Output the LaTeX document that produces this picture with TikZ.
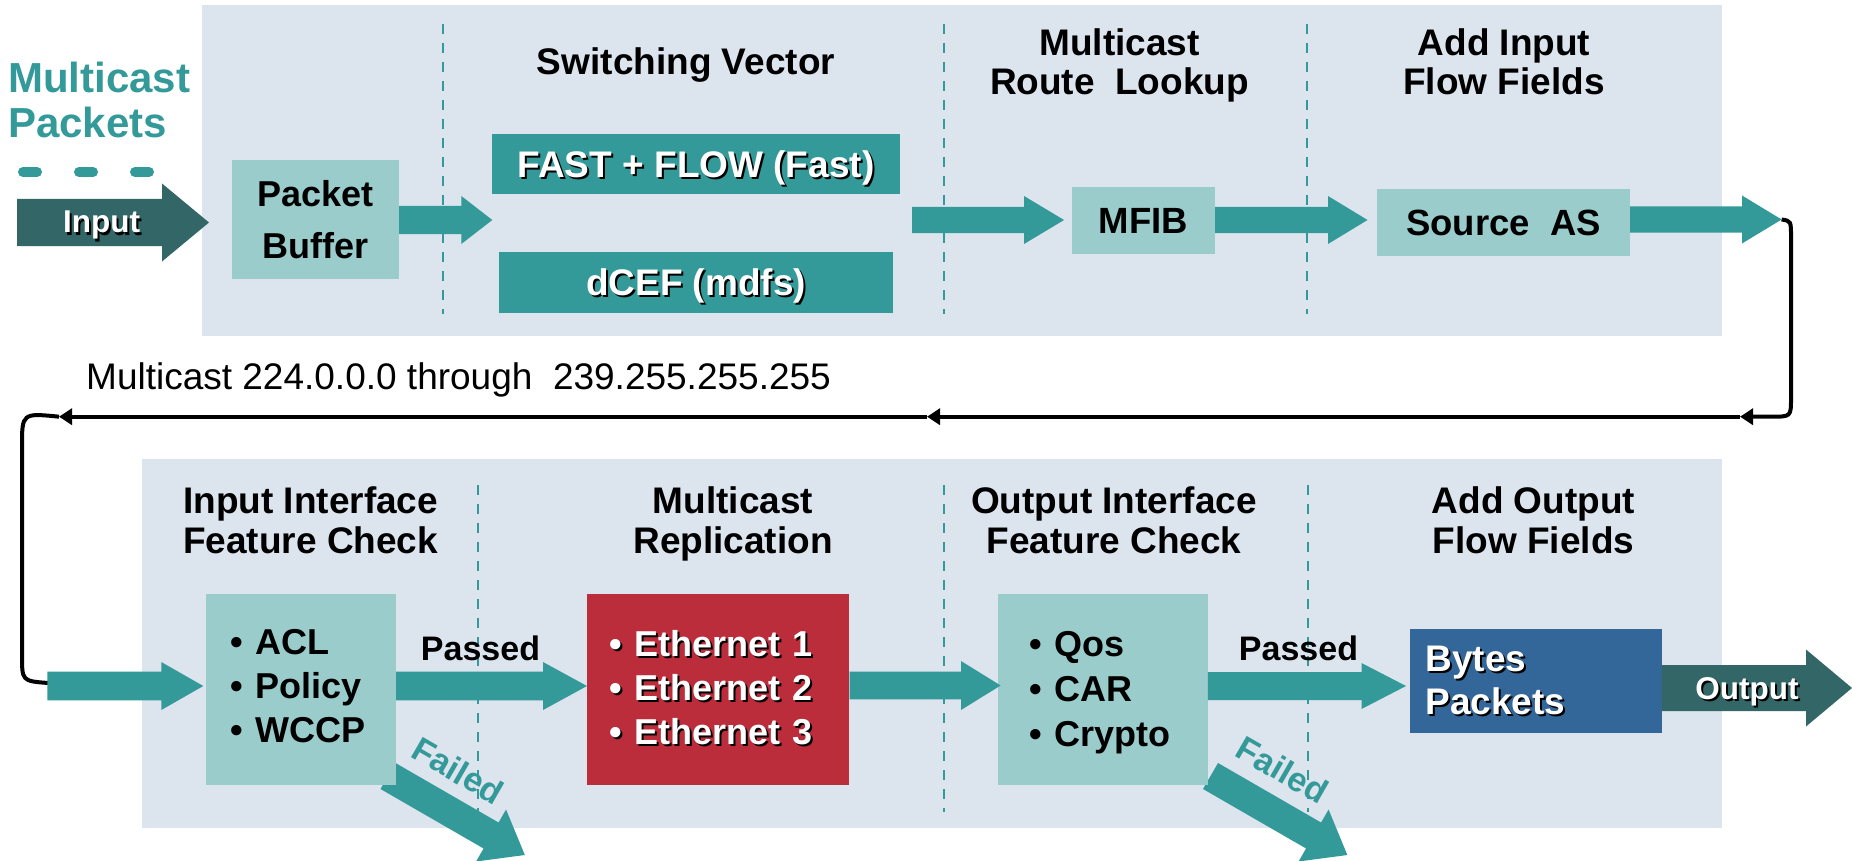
\documentclass[tikz,border=0pt]{standalone}
\usepackage{fontspec}
\setmainfont{Liberation Sans}
\usetikzlibrary{arrows.meta,calc}

\definecolor{panelbg}{HTML}{DCE4ED}
\definecolor{boxteal}{HTML}{9BCCCC}
\definecolor{flowteal}{HTML}{339999}
\definecolor{darkteal}{HTML}{336666}
\definecolor{replred}{HTML}{BB2D3B}
\definecolor{fieldblue}{HTML}{336699}

% white lettering with a dark drop shadow
\newcommand\shadowed[1]{\leavevmode\rlap{\kern2pt\raisebox{-2pt}{\textcolor{black}{#1}}}#1}

% horizontal block arrow: colour, start, tip, body half-height, head half-height, head length
\newcommand\blockarrow[6]{%
  \fill[#1] let \p1=(#2), \p2=(#3) in
    (\x1,\y2+#4) -- (\x2-#6,\y2+#4) -- (\x2-#6,\y2+#5) -- (\x2,\y2)
    -- (\x2-#6,\y2-#5) -- (\x2-#6,\y2-#4) -- (\x1,\y2-#4) -- cycle;}

\tikzset{
  panel/.style={fill=panelbg},
  sep/.style={draw=flowteal, line width=2pt, dash pattern=on 10pt off 9pt},
  hd/.style={font=\fontsize{37}{39.5}\selectfont\bfseries, align=center, anchor=base, inner sep=0pt},
  lbox/.style={fill=boxteal, inner sep=0pt, font=\fontsize{36}{44}\selectfont\bfseries, text depth=0pt},
  tbox/.style={fill=flowteal, inner sep=0pt, text=white, font=\fontsize{37}{40}\selectfont\bfseries, text depth=0pt},
  listbox/.style={inner ysep=0pt, align=left, font=\fontsize{36}{44}\selectfont\bfseries},
  lbl/.style={font=\fontsize{34}{36}\selectfont\bfseries, anchor=base, inner sep=0pt},
  failtext/.style={font=\fontsize{34}{36}\selectfont\bfseries, text=flowteal, inner sep=0pt, rotate=-30},
  io/.style={font=\fontsize{31.5}{34}\selectfont\bfseries, text=white, anchor=base, inner sep=0pt},
  retline/.style={draw=black, line width=4pt},
  rettip/.style={-{Triangle[length=13pt,width=16pt]}},
}

\begin{document}
\begin{tikzpicture}[x=1pt, y=-1pt]
\useasboundingbox (0,0) rectangle (1852,861);

% stage panels
\fill[panel] (202,5) rectangle (1722,336);
\fill[panel] (142,459) rectangle (1722,828);

% stage separators
\draw[sep] (443,24) -- (443,314);
\draw[sep] (944,24) -- (944,314);
\draw[sep] (1307,24) -- (1307,314);
\draw[sep] (477.6,485) -- (477.6,812);
\draw[sep] (944,485) -- (944,812);
\draw[sep] (1308,485) -- (1308,812);

% incoming packets (multi-line nodes sit on the baseline of their last line)
\node[anchor=base west, align=left, inner sep=0pt, text=flowteal,
      font=\fontsize{42}{45}\selectfont\bfseries] (title) at (8,138) {Multicast\\Packets};
\draw[draw=flowteal, line width=10pt, line cap=round, dash pattern=on 14pt off 42pt] (23,172) -- (149,172);
\coordinate (inS) at (17,222.5);
\coordinate (inT) at (209,222.5);
\blockarrow{darkteal}{inS}{inT}{23.5pt}{39pt}{47pt}
\node[io] (inlbl) at (101.5,233) {\shadowed{Input}};

% upper row boxes
\node[lbox, align=center, minimum width=167pt, minimum height=119pt, font=\fontsize{36}{52}\selectfont\bfseries] (pb) at (315.5,219.5) {Packet\\Buffer};
\node[tbox, minimum width=408pt, minimum height=60pt] (fast) at (696,164) {\shadowed{FAST + FLOW (Fast)}};
\node[tbox, minimum width=394pt, minimum height=61pt] (dcef) at (696,282.5) {\shadowed{dCEF (mdfs)}};
\node[lbox, minimum width=143pt, minimum height=67pt, font=\fontsize{36.5}{40}\selectfont\bfseries] (mfib) at (1143.5,220.5) {MFIB};
\node[lbox, minimum width=253pt, minimum height=67pt, font=\fontsize{36.5}{40}\selectfont\bfseries] (src) at (1503.5,222.5) {Source\ \ AS};

% upper row headings
\node[hd] (hsv) at (686,75) {Switching Vector};
\node[hd] (hmr) at (1119.5,95) {Multicast\\Route\ \ Lookup};
\node[hd] (hin) at (1504,95) {Add Input\\Flow Fields};

% upper row flow
\coordinate (svin) at (492.3,220);
\coordinate (svout) at (912,220);
\coordinate (mfin) at (1064,220);
\coordinate (srcin) at (1367.5,220);
\coordinate (retA) at (1781.6,219.5);
\blockarrow{flowteal}{pb.east}{svin}{14pt}{24pt}{31pt}
\blockarrow{flowteal}{svout}{mfin}{13pt}{24pt}{40pt}
\blockarrow{flowteal}{mfib.east}{srcin}{13pt}{24pt}{39.5pt}
\blockarrow{flowteal}{src.east}{retA}{13pt}{24pt}{39.6pt}

% return path to the lower row
\coordinate (r1) at (1740,416.7);
\coordinate (r2) at (927,416.7);
\coordinate (r3) at (59,416.7);
\coordinate (lin) at (48,683);
\draw[retline, rettip] (retA) .. controls (1791,221) .. (1791,237) -- (1791,398)
   .. controls (1791,416.7) .. (1771,416.7) -- (r1);
\draw[retline, rettip] (r1) -- (r2);
\draw[retline, rettip] (r2) -- (r3);
\draw[retline] (r3) .. controls (22,413) .. (22,447) -- (22,655) .. controls (22,681) .. (lin);
\node[anchor=base west, inner sep=0pt, font=\fontsize{37}{40}\selectfont] (range) at (86,389)
   {Multicast 224.0.0.0 through\ \ 239.255.255.255};

% lower row flow
\coordinate (aclinS) at (47.3,686);
\coordinate (aclinT) at (203.3,686);
\coordinate (ethin) at (587,686);
\coordinate (qosin) at (1000.6,685.5);
\coordinate (bytin) at (1406,686);
\coordinate (outT) at (1852,688);
\coordinate (f1) at (388,776);
\coordinate (f2) at (1210.5,776);
\begin{scope}[shift={(f1)}, rotate=-30]
  \fill[flowteal] (0,15) -- (119,15) -- (119,30) -- (158,0) -- (119,-30) -- (119,-15) -- (0,-15) -- cycle;
\end{scope}
\begin{scope}[shift={(f2)}, rotate=-30]
  \fill[flowteal] (0,15) -- (119,15) -- (119,30) -- (158,0) -- (119,-30) -- (119,-15) -- (0,-15) -- cycle;
\end{scope}

% lower row boxes (first line baseline = centre + (text height - text depth)/2)
\node[listbox, fill=boxteal, minimum height=191pt, inner xsep=24.7pt, text width=140.6pt,
      text height=17pt, text depth=88pt] (acl) at (301,689.5)
   {\textbullet\ ACL\\\textbullet\ Policy\\\textbullet\ WCCP};
\node[listbox, fill=replred, text=white, minimum height=191pt, inner xsep=22.7pt, text width=217pt,
      text height=21pt, text depth=88pt] (eth) at (718.25,689.5)
   {\shadowed{\textbullet\ Ethernet 1}\\\shadowed{\textbullet\ Ethernet 2}\\\shadowed{\textbullet\ Ethernet 3}};
\node[listbox, fill=boxteal, minimum height=191pt, inner xsep=31.7pt, text width=146.2pt,
      text height=23pt, text depth=90pt, font=\fontsize{36}{45}\selectfont\bfseries] (qos) at (1102.8,689.5)
   {\textbullet\ Qos\\\textbullet\ CAR\\\textbullet\ Crypto};
\node[listbox, fill=fieldblue, text=white, minimum height=104pt, inner xsep=15.4pt, text width=220.7pt,
      text height=23pt, text depth=43pt, font=\fontsize{37}{43}\selectfont\bfseries] (bytes) at (1535.75,681)
   {\shadowed{Bytes}\\\shadowed{Packets}};

\blockarrow{flowteal}{aclinS}{aclinT}{14.4pt}{24pt}{42pt}
\blockarrow{flowteal}{acl.east}{ethin}{14.4pt}{24pt}{44pt}
\blockarrow{flowteal}{eth.east}{qosin}{13.8pt}{24.5pt}{39.6pt}
\blockarrow{flowteal}{qos.east}{bytin}{14pt}{23pt}{44.5pt}
\blockarrow{darkteal}{bytes.east}{outT}{23pt}{38.5pt}{46pt}
\node[io] (outlbl) at (1747,699) {\shadowed{Output}};

% lower row headings and labels
\node[hd] (hic) at (310.6,553) {Input Interface\\Feature Check};
\node[hd] (hrep) at (733,553) {Multicast\\Replication};
\node[hd] (hoc) at (1114,553) {Output Interface\\Feature Check};
\node[hd] (hout) at (1533.5,553) {Add Output\\Flow Fields};
\node[lbl] (pass1) at (480.5,660) {Passed};
\node[lbl] (pass2) at (1298.5,660) {Passed};
\node[failtext] (fail1) at (458,770.5) {Failed};
\node[failtext] (fail2) at (1282.5,770) {Failed};
\end{tikzpicture}
\end{document}
